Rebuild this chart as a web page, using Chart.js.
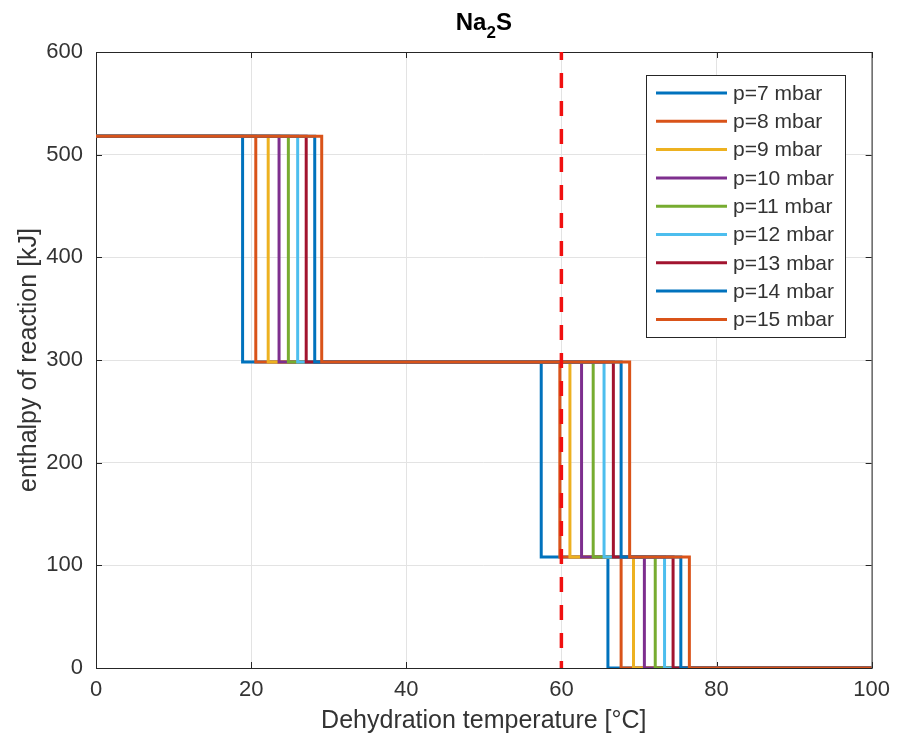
<!DOCTYPE html>
<html>
<head>
<meta charset="utf-8">
<script src="https://cdn.jsdelivr.net/npm/chart.js@4/dist/chart.umd.min.js"></script>
<style>
  html, body { margin: 0; padding: 0; background: #fff; }
  #wrap { width: 899px; height: 747px; }
</style>
</head>
<body>
<div id="wrap"><canvas id="chart" width="899" height="747"></canvas></div>
<script>
// pressure series and the temperatures where each step drops
const pressures = [7, 8, 9, 10, 11, 12, 13, 14, 15];
const levels = [518, 298, 108, 0];
const step1 = [18.9, 20.6, 22.2, 23.6, 24.8, 26.0, 27.1, 28.2, 29.1];
const step2 = [57.4, 59.8, 61.1, 62.6, 64.1, 65.5, 66.7, 67.7, 68.8];
const step3 = [66.0, 67.7, 69.3, 70.7, 72.1, 73.3, 74.4, 75.4, 76.5];
const tempRange = [0, 100];
const markerTemp = 60;

const colors = ['#0072BD', '#D95319', '#EDB120', '#7E2F8E', '#77AC30', '#4DBEEE', '#A2142F', '#0072BD', '#D95319'];
const FONT = '"Liberation Sans", Arial, sans-serif';
const INK = '#333333';

const datasets = pressures.map((p, i) => ({
  label: 'p=' + p + ' mbar',
  data: [
    { x: tempRange[0], y: levels[0] },
    { x: step1[i], y: levels[0] },
    { x: step1[i], y: levels[1] },
    { x: step2[i], y: levels[1] },
    { x: step2[i], y: levels[2] },
    { x: step3[i], y: levels[2] },
    { x: step3[i], y: levels[3] },
    { x: tempRange[1], y: levels[3] }
  ],
  borderColor: colors[i],
  borderWidth: 3,
  pointRadius: 0,
  tension: 0,
  order: pressures.length - i + 1   // later series on top
}));

// dashed marker, drawn top-down so the dash pattern starts at the top edge
datasets.push({
  label: 'marker',
  data: [{ x: markerTemp, y: 600 }, { x: markerTemp, y: 0 }],
  borderColor: '#f01010',
  borderWidth: 3.5,
  borderDash: [15, 13],
  borderDashOffset: 7,
  pointRadius: 0,
  order: 0
});

// axes box, inward ticks, title, axis labels and legend
const frame = {
  id: 'frame',
  beforeDatasetsDraw(chart) {
    const { ctx, chartArea: a, scales } = chart;
    ctx.save();
    ctx.strokeStyle = '#262626';
    ctx.lineWidth = 1;
    ctx.strokeRect(a.left + 0.5, a.top + 0.5, a.right - a.left, a.bottom - a.top);
    const t = 6;
    ctx.beginPath();
    scales.x.ticks.forEach(tk => {
      const x = Math.round(scales.x.getPixelForValue(tk.value)) + 0.5;
      ctx.moveTo(x, a.bottom); ctx.lineTo(x, a.bottom - t);
      ctx.moveTo(x, a.top); ctx.lineTo(x, a.top + t);
    });
    scales.y.ticks.forEach(tk => {
      const y = Math.round(scales.y.getPixelForValue(tk.value)) + 0.5;
      ctx.moveTo(a.left, y); ctx.lineTo(a.left + t, y);
      ctx.moveTo(a.right, y); ctx.lineTo(a.right - t, y);
    });
    ctx.stroke();
    ctx.restore();
  },
  afterDatasetsDraw(chart) {
    const { ctx, chartArea: a } = chart;
    ctx.save();
    // title Na2S with subscript
    ctx.fillStyle = '#000';
    ctx.textBaseline = 'alphabetic';
    const big = 'bold 24px ' + FONT, small = 'bold 17px ' + FONT;
    ctx.font = big; const wNa = ctx.measureText('Na').width; const wS = ctx.measureText('S').width;
    ctx.font = small; const w2 = ctx.measureText('2').width;
    let x0 = (a.left + a.right) / 2 - (wNa + w2 + wS) / 2;
    ctx.font = big; ctx.fillText('Na', x0, 30);
    ctx.font = small; ctx.fillText('2', x0 + wNa, 38);
    ctx.font = big; ctx.fillText('S', x0 + wNa + w2, 30);

    // axis titles
    ctx.fillStyle = INK;
    ctx.font = '25px ' + FONT;
    ctx.textAlign = 'center';
    ctx.fillText('Dehydration temperature [°C]', (a.left + a.right) / 2, 728);
    ctx.save();
    ctx.translate(36, (a.top + a.bottom) / 2);
    ctx.rotate(-Math.PI / 2);
    ctx.fillText('enthalpy of reaction [kJ]', 0, 0);
    ctx.restore();

    // legend
    const lx = 646, ly = 75, lw = 199, lh = 262, pitch = 28.3, first = 93;
    ctx.fillStyle = '#fff';
    ctx.fillRect(lx, ly, lw, lh);
    ctx.strokeStyle = '#262626';
    ctx.lineWidth = 1;
    ctx.strokeRect(lx + 0.5, ly + 0.5, lw, lh);
    ctx.font = '21px ' + FONT;
    ctx.textAlign = 'left';
    ctx.textBaseline = 'middle';
    pressures.forEach((p, i) => {
      const y = first + i * pitch;
      ctx.strokeStyle = colors[i];
      ctx.lineWidth = 3;
      ctx.beginPath(); ctx.moveTo(656, y); ctx.lineTo(727, y); ctx.stroke();
      ctx.fillStyle = INK;
      ctx.fillText(datasets[i].label, 733, y + 1);
    });
    ctx.restore();
  }
};

new Chart(document.getElementById('chart'), {
  type: 'line',
  data: { datasets },
  options: {
    responsive: false,
    animation: false,
    events: [],
    layout: { padding: { top: 52, right: 22, left: 0, bottom: 0 } },
    plugins: { legend: { display: false }, title: { display: false }, tooltip: { enabled: false } },
    scales: {
      x: {
        type: 'linear', min: 0, max: 100,
        ticks: { stepSize: 20, padding: 9, color: INK, font: { family: FONT, size: 22 }, maxRotation: 0 },
        grid: { color: '#e3e3e3', drawTicks: false },
        border: { display: false },
        afterFit(s) { s.height = 79; }
      },
      y: {
        min: 0, max: 600,
        ticks: { stepSize: 100, padding: 13, color: INK, font: { family: FONT, size: 22 } },
        grid: { color: '#e3e3e3', drawTicks: false },
        border: { display: false },
        afterFit(s) { s.width = 96; }
      }
    }
  },
  plugins: [frame]
});
</script>
</body>
</html>
